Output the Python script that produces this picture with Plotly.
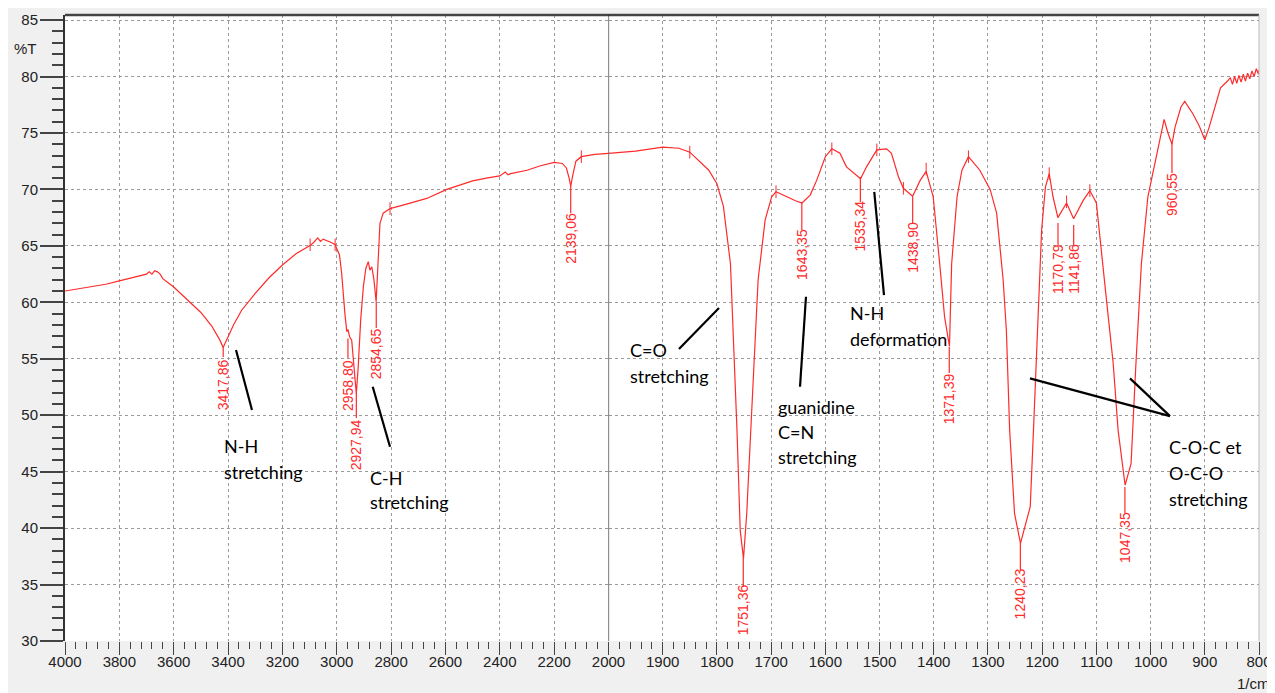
import plotly.graph_objects as go

# ---------------- data ----------------
wavenumber = [4000, 3950, 3900, 3850, 3800, 3750, 3720, 3700, 3690, 3680, 3670, 3660, 3650, 3640,
              3600, 3550, 3500, 3460, 3430, 3418, 3405, 3380, 3350, 3300, 3250, 3200, 3150, 3100,
              3085, 3070, 3060, 3050, 3020, 3006, 2990, 2982, 2970, 2963, 2959, 2952, 2945, 2939,
              2933, 2928, 2921, 2912, 2902, 2893, 2884, 2878, 2871, 2863, 2855, 2851, 2846, 2841,
              2829, 2804, 2743, 2669, 2595, 2522, 2500, 2450, 2400, 2380, 2370, 2360, 2300, 2250,
              2200, 2170, 2155, 2145, 2139, 2132, 2120, 2100, 2050, 2000,
              1950, 1900, 1870, 1850, 1831, 1815, 1800, 1788, 1775, 1770, 1763, 1757, 1751, 1745,
              1733, 1724, 1711, 1699, 1691, 1671, 1655, 1643, 1628, 1616, 1600, 1588, 1573, 1561,
              1545, 1535, 1524, 1505, 1487, 1478, 1465, 1456, 1439, 1425, 1414, 1401, 1389, 1380,
              1371, 1367, 1357, 1348, 1336, 1315, 1296, 1284, 1272, 1266, 1260, 1251, 1240, 1222,
              1216, 1209, 1201, 1194, 1187, 1180, 1171, 1155, 1142, 1124, 1112, 1100, 1091, 1082,
              1069, 1060, 1047, 1036, 1027, 1017, 1005, 996, 984, 975, 968, 960.5, 955, 944, 937,
              930, 922, 910, 900, 892, 883, 871, 858, 853, 849, 845, 841, 837, 833, 829, 825, 821,
              817, 813, 809, 805, 801, 800]
transmittance = [61.0, 61.2, 61.4, 61.6, 61.9, 62.2, 62.4, 62.5, 62.7, 62.5, 62.8, 62.7, 62.5, 62.1,
                 61.35, 60.2, 59.1, 57.9, 56.65, 56.0, 56.65, 58.0, 59.3, 60.8, 62.15, 63.3, 64.3, 65.0,
                 65.3, 65.7, 65.4, 65.6, 65.3, 65.1, 64.2, 62.6, 59.0, 57.4, 57.6, 56.9, 56.65, 55.2,
                 53.1, 51.9, 54.3, 58.4, 61.4, 63.0, 63.6, 62.85, 63.15, 61.97, 60.05, 62.0, 64.9, 67.0,
                 67.9, 68.3, 68.7, 69.2, 70.0, 70.6, 70.75, 71.0, 71.2, 71.55, 71.3, 71.4, 71.7, 72.1,
                 72.4, 72.3, 71.9, 71.0, 70.3, 71.2, 72.5, 72.9, 73.1, 73.2,
                 73.4, 73.75, 73.65, 73.3, 72.45, 71.7, 70.5, 68.5, 63.4, 57.5, 48.7, 39.8, 37.3, 41.3,
                 53.1, 62.0, 67.3, 69.35, 69.8, 69.35, 69.0, 68.8, 69.5, 70.8, 72.9, 73.6, 73.2, 72.0,
                 71.3, 70.95, 72.0, 73.5, 73.6, 73.2, 71.1, 70.1, 69.4, 70.8, 71.6, 69.35, 63.4, 58.7,
                 56.1, 63.4, 69.35, 71.7, 72.9, 71.7, 70.0, 67.9, 62.0, 57.5, 48.7, 41.3, 38.65, 41.9,
                 48.7, 57.5, 66.4, 70.2, 71.4, 69.35, 67.5, 68.8, 67.4, 69.05, 69.9, 68.8, 64.9, 60.5,
                 54.6, 48.7, 43.8, 45.7, 54.6, 63.4, 69.35, 71.4, 74.4, 76.2, 75.0, 74.0, 75.5, 77.3, 77.8,
                 77.3, 76.7, 75.6, 74.4, 75.5, 77.0, 79.0, 79.6, 79.9, 79.3, 80.0, 79.4, 80.1, 79.5, 80.2,
                 79.6, 80.3, 79.8, 80.5, 80.0, 80.7, 80.2, 80.6]

# small picking ticks drawn on the curve
tick_wn = [3098, 3006, 2804, 2100, 1850, 1691, 1588, 1505, 1456, 1414, 1336, 1187, 1155, 1112]
tick_t = [65.1, 65.1, 68.3, 72.9, 73.3, 69.8, 73.6, 73.5, 70.1, 71.8, 72.9, 71.4, 68.9, 69.9]

# labelled peaks
peak_wn = [3417.86, 2958.80, 2927.94, 2854.65, 2139.06, 1751.36, 1643.35, 1535.34, 1438.90,
           1371.39, 1240.23, 1170.79, 1141.86, 1047.35, 960.55]
peak_label = ["3417,86", "2958,80", "2927,94", "2854,65", "2139,06", "1751,36", "1643,35", "1535,34",
              "1438,90", "1371,39", "1240,23", "1170,79", "1141,86", "1047,35", "960,55"]
peak_top = [56.1, 56.8, 51.96, 60.02, 70.3, 37.35, 68.88, 71.09, 69.32, 56.04, 38.68, 67.02, 66.84, 43.64, 74.1]
peak_bottom = [55.15, 55.06, 49.75, 57.72, 67.9, 34.78, 66.4, 68.88, 67.02, 53.73, 36.29, 65.07, 65.07, 41.33, 71.45]
peak_label_y = [52.67, 52.67, 47.36, 55.42, 65.69, 32.74, 64.27, 66.75, 64.89, 51.43, 34.16, 62.95, 62.95, 39.21, 69.59]

# assignment texts: (lines, left wavenumber, y of each line)
assign_text = [["N-H", "stretching"], ["C-H", "stretching"], ["C=O", "stretching"],
               ["guanidine", "C=N", "stretching"], ["N-H", "deformation"],
               ["C-O-C et", "O-C-O", "stretching"]]
assign_x = [3422, 2885, 1964, 1691, 1557.6, 970.3]
assign_y = [[47.27, 44.97], [44.43, 42.31], [55.77, 53.47], [50.72, 48.51, 46.29], [59.05, 56.74],
            [47.2, 44.9, 42.6]]
# pointer segments: (x0, y0, x1, y1)
pointer_left = [(3370.7, 55.77, 3311.9, 50.46), (2867.7, 52.52, 2804, 47.2)]
pointer_right = [(1870.0, 55.86, 1796.2, 59.49), (1635.7, 60.49, 1646.7, 52.52),
                 (1509.7, 69.79, 1491.8, 60.64), (1222.5, 53.26, 964.2, 49.92),
                 (1038.0, 53.26, 964.2, 49.92)]

x_ticks_left = [4000, 3800, 3600, 3400, 3200, 3000, 2800, 2600, 2400, 2200, 2000]
x_ticks_right = [1900, 1800, 1700, 1600, 1500, 1400, 1300, 1200, 1100, 1000, 900, 800]
y_ticks = [30, 35, 40, 45, 50, 55, 60, 65, 70, 75, 80, 85]

# ---------------- figure ----------------
RED = "#ff2a2a"
SPLIT = 2000
left_w = [w for w in wavenumber if w >= SPLIT]
left_t = [t for w, t in zip(wavenumber, transmittance) if w >= SPLIT]
right_w = [w for w in wavenumber if w <= SPLIT]
right_t = [t for w, t in zip(wavenumber, transmittance) if w <= SPLIT]

fig = go.Figure()
fig.add_trace(go.Scatter(x=left_w, y=left_t, mode="lines", line=dict(color=RED, width=1.2),
                         xaxis="x", yaxis="y", hoverinfo="skip"))
fig.add_trace(go.Scatter(x=right_w, y=right_t, mode="lines", line=dict(color=RED, width=1.2),
                         xaxis="x2", yaxis="y", hoverinfo="skip"))

# tick marks on curve
for ax in ("x", "x2"):
    sel = [(w, t) for w, t in zip(tick_wn, tick_t) if (w >= SPLIT) == (ax == "x")]
    fig.add_trace(go.Scatter(x=[s[0] for s in sel], y=[s[1] for s in sel], mode="markers",
                             marker=dict(symbol="line-ns", size=9, line=dict(color=RED, width=1)),
                             xaxis=ax, yaxis="y", hoverinfo="skip"))

# peak label stems and labels
for ax in ("x", "x2"):
    xs, ys = [], []
    for w, a, b in zip(peak_wn, peak_top, peak_bottom):
        if (w >= SPLIT) == (ax == "x"):
            xs += [w, w, None]
            ys += [a, b, None]
    fig.add_trace(go.Scatter(x=xs, y=ys, mode="lines", line=dict(color=RED, width=1.2),
                             xaxis=ax, yaxis="y", hoverinfo="skip"))

annotations = []
for w, lab, ly in zip(peak_wn, peak_label, peak_label_y):
    annotations.append(dict(x=w, y=ly, xref="x" if w >= SPLIT else "x2", yref="y", text=lab,
                            textangle=-90, showarrow=False, xanchor="center", yanchor="middle",
                            font=dict(family="Liberation Sans, Arial", size=14, color=RED)))

# black pointer lines
for ax, segs in (("x", pointer_left), ("x2", pointer_right)):
    xs, ys = [], []
    for x0, y0, x1, y1 in segs:
        xs += [x0, x1, None]
        ys += [y0, y1, None]
    fig.add_trace(go.Scatter(x=xs, y=ys, mode="lines", line=dict(color="black", width=2.2),
                             xaxis=ax, yaxis="y", hoverinfo="skip"))

for lines, xw, ys in zip(assign_text, assign_x, assign_y):
    for txt, yy in zip(lines, ys):
        annotations.append(dict(x=xw, y=yy, xref="x" if xw >= SPLIT else "x2", yref="y", text=txt,
                                showarrow=False, xanchor="left", yanchor="middle",
                                font=dict(family="Lato, Open Sans, sans-serif", size=18, color="black")))

annotations.append(dict(x=-0.0335, y=0.9457, xref="paper", yref="paper", text="%T", showarrow=False,
                        xanchor="center", yanchor="middle",
                        font=dict(family="Liberation Sans, Arial", size=15, color="#222")))
annotations.append(dict(x=0.9955, y=-0.0671, xref="paper", yref="paper", text="1/cm", showarrow=False,
                        xanchor="center", yanchor="middle",
                        font=dict(family="Liberation Sans, Arial", size=15, color="#222")))

D = (608.5 - 65) / 1194.0
GRID = dict(showgrid=True, gridcolor="#9a9a9a", gridwidth=1, griddash="3px,3px")
TICKFONT = dict(family="Liberation Sans, Arial", size=15, color="#222")

fig.update_layout(
    width=1267, height=685,
    margin=dict(l=57, r=16, t=7, b=52, autoexpand=False),
    paper_bgcolor="#f0f0f0", plot_bgcolor="white",
    showlegend=False,
    annotations=annotations,
    xaxis=dict(domain=[0, D], range=[4000, 2000], tickmode="array", tickvals=x_ticks_left,
               ticks="outside", ticklen=13, tickwidth=1.2, tickcolor="#444", tickfont=TICKFONT,
               ticklabelstandoff=-6, automargin=False,
               minor=dict(tick0=0, dtick=40, ticks="outside", ticklen=7, tickwidth=1, tickcolor="#444",
                          showgrid=False),
               zeroline=False, showline=False, anchor="y", **GRID),
    xaxis2=dict(domain=[D, 1], range=[2000, 800], tickmode="array", tickvals=x_ticks_right,
                ticks="outside", ticklen=13, tickwidth=1.2, tickcolor="#444", tickfont=TICKFONT,
                ticklabelstandoff=-6, automargin=False,
                minor=dict(tick0=0, dtick=20, ticks="outside", ticklen=7, tickwidth=1, tickcolor="#444",
                           showgrid=False),
                zeroline=False, showline=False, anchor="y", **GRID),
    yaxis=dict(range=[30, 85.45], tickmode="array", tickvals=y_ticks, ticks="outside", ticklen=23,
               tickwidth=1.5, tickcolor="#444", tickfont=TICKFONT, ticklabelstandoff=-1,
               automargin=False,
               minor=dict(dtick=1, ticks="outside", ticklen=11, tickwidth=1.5, tickcolor="#444",
                          showgrid=False),
               zeroline=False, showline=True, linecolor="#333", linewidth=2, **GRID),
    shapes=[
        dict(type="line", xref="paper", yref="paper", x0=0, x1=1, y0=1, y1=1,
             line=dict(color="#444", width=2.5)),
        dict(type="line", xref="paper", yref="paper", x0=1, x1=1, y0=0, y1=1,
             line=dict(color="#bbbbbb", width=1)),
        dict(type="line", xref="x2", yref="paper", x0=2000, x1=2000, y0=0, y1=1,
             line=dict(color="#222", width=1.2)),
    ],
)

fig.write_html("out.html")
